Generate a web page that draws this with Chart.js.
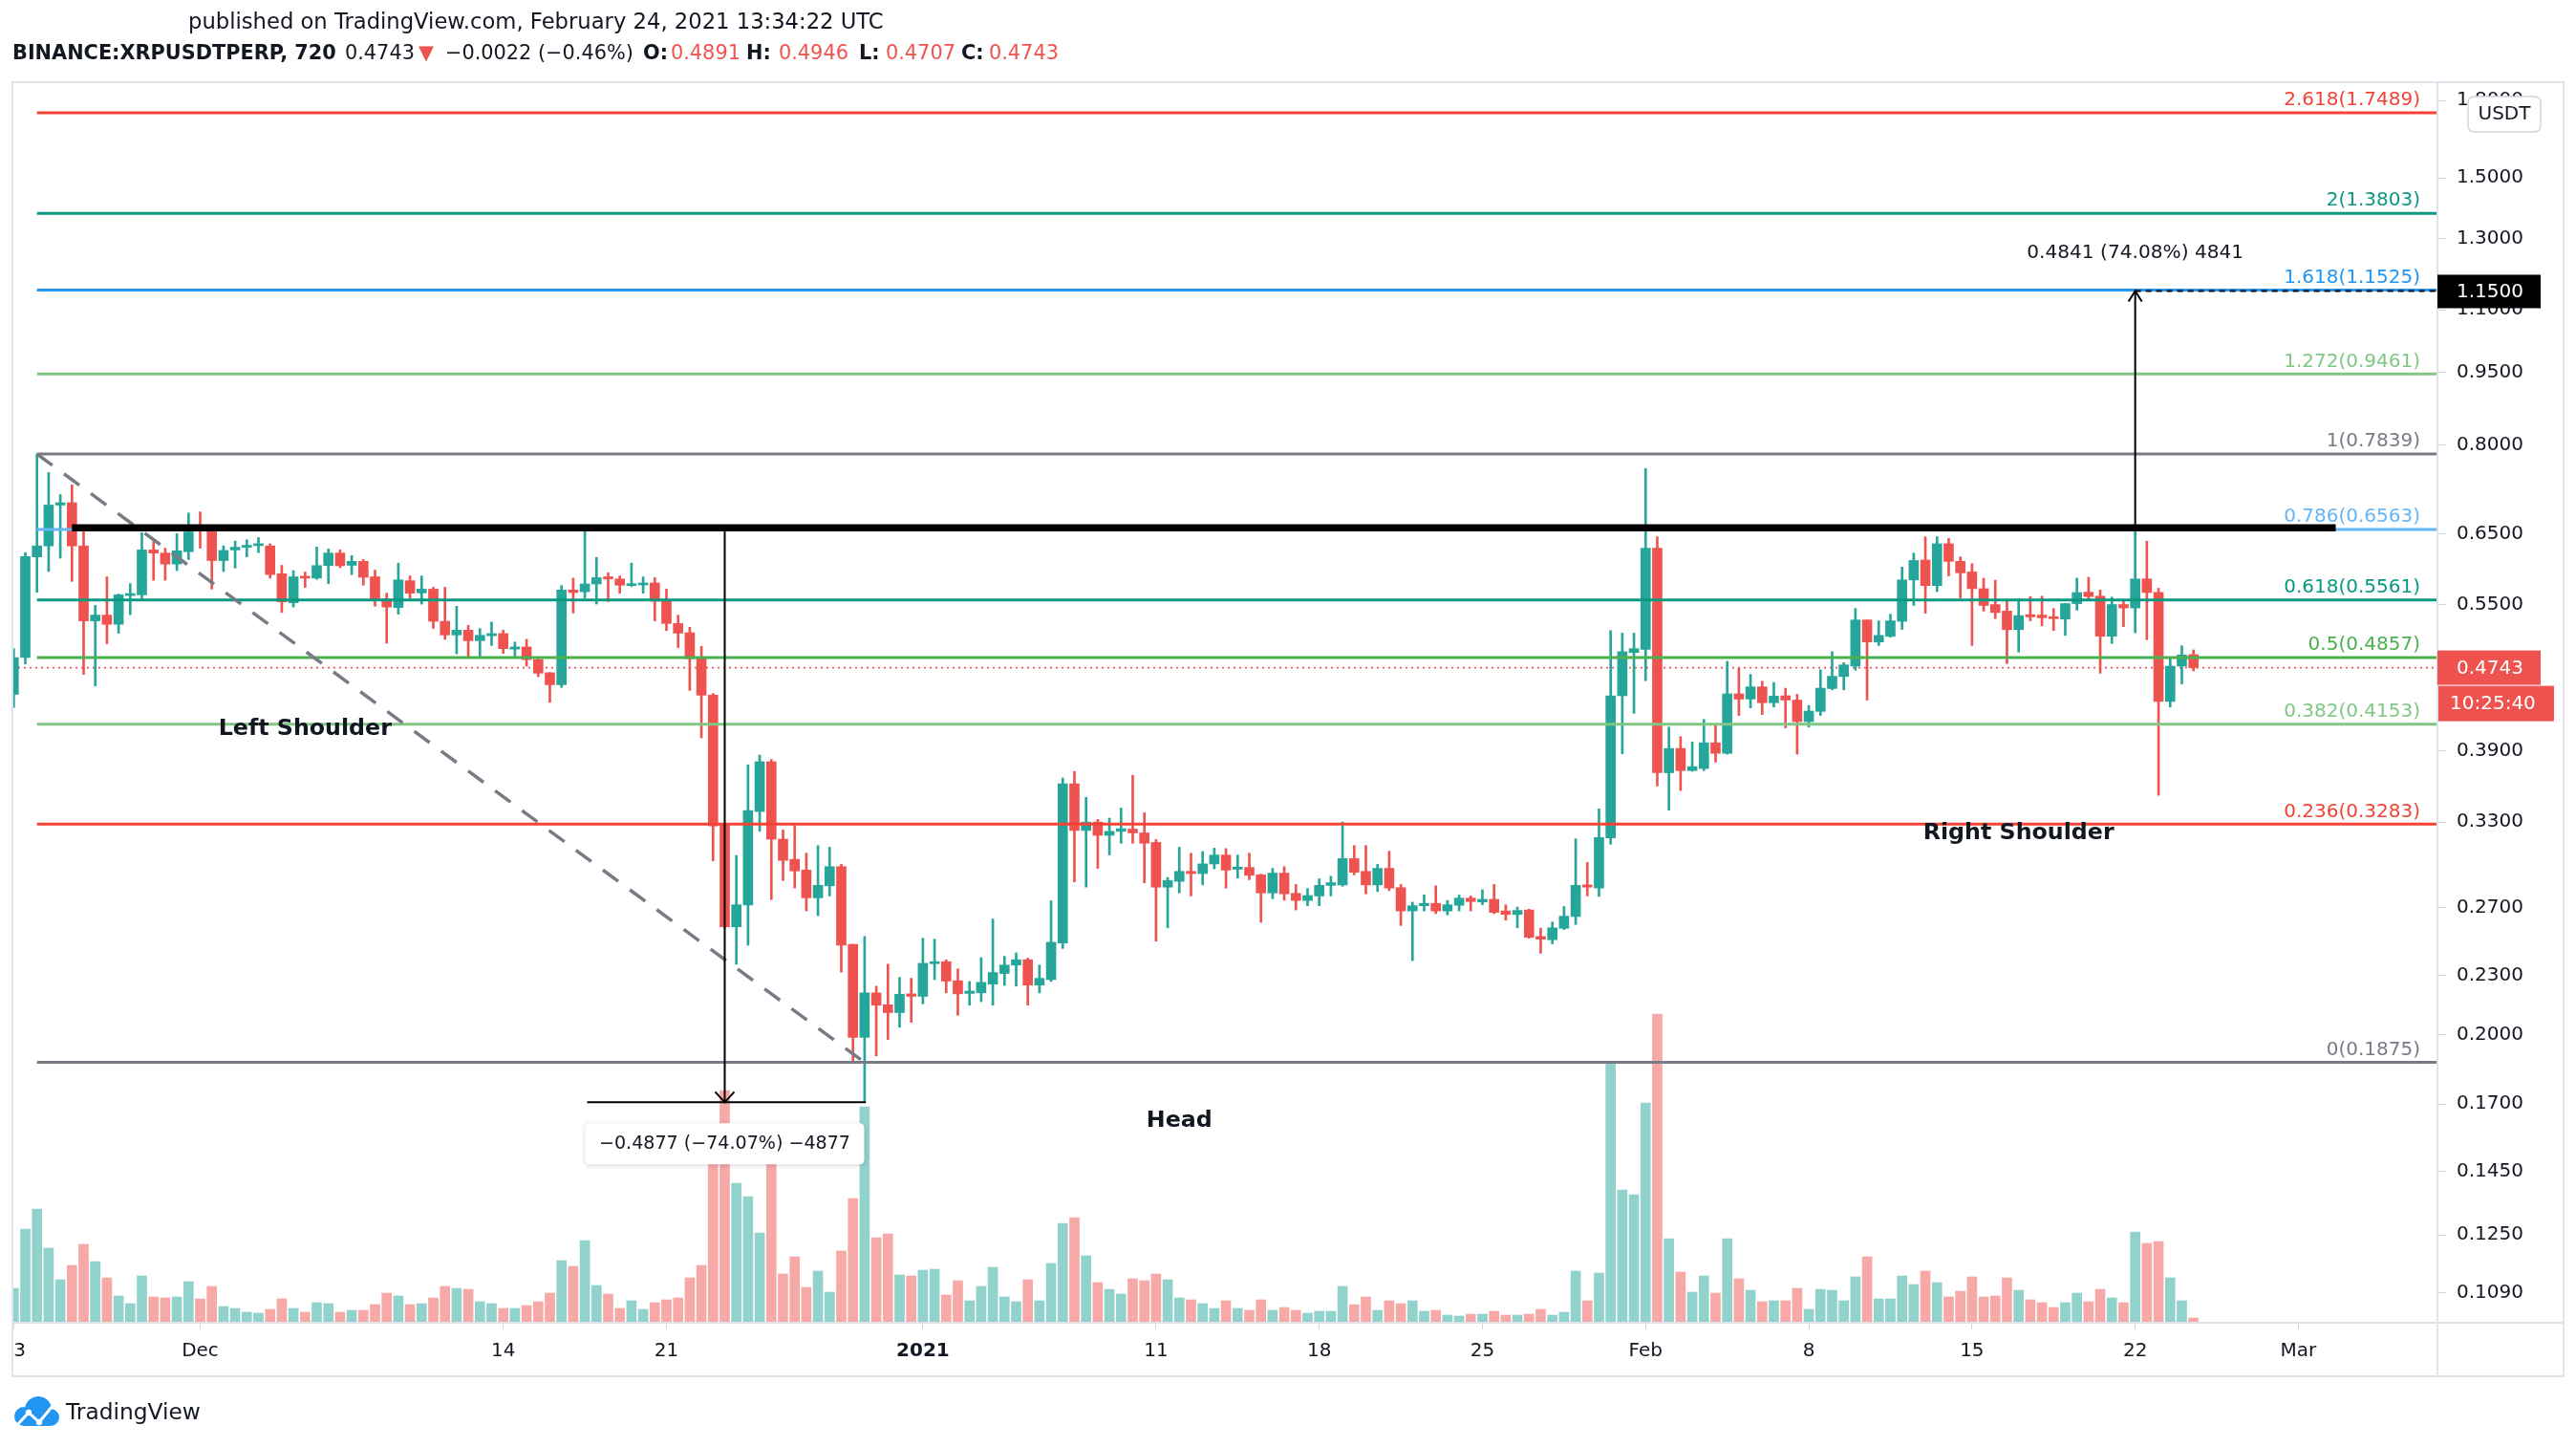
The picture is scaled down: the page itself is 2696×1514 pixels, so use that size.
<!DOCTYPE html>
<html>
<head>
<meta charset="utf-8">
<title>BINANCE:XRPUSDTPERP, 720</title>
<script src="https://cdn.jsdelivr.net/npm/chart.js@4.4.1/dist/chart.umd.min.js"></script>
<style>
html,body{margin:0;padding:0;background:#ffffff;}
#wrap{position:relative;width:2696px;height:1514px;}
canvas{display:block;}
</style>
</head>
<body>
<div id="wrap"><canvas id="chart" width="2696" height="1514"></canvas></div>
<script>
// ================= DATA (12h candles from 2020-11-23 00:00 UTC) =================
const candleStartUTC = '2020-11-23T00:00:00Z';
const candleStepHours = 12;

const opens = [
0.4455,0.4857,0.6155,0.6315,0.6952,0.6990,0.6315,0.5295,0.5367,0.5252,
0.5620,0.5629,0.6256,0.6210,0.6052,0.6230,0.6620,0.6560,0.6102,0.6256,
0.6295,0.6320,0.6315,0.5916,0.5526,0.5880,0.5855,0.6030,0.6210,0.6034,
0.6090,0.5873,0.5577,0.5464,0.5819,0.5655,0.5705,0.5290,0.5122,0.5180,
0.5054,0.5113,0.5139,0.4955,0.4980,0.4834,0.4687,0.4557,0.5694,0.5670,
0.5775,0.5873,0.5843,0.5753,0.5762,0.5788,0.5556,0.5262,0.5149,0.4844,
0.4446,0.3283,0.2579,0.2714,0.3382,0.3802,0.3169,0.3022,0.2947,0.2761,
0.2840,0.2971,0.2475,0.1989,0.2208,0.2147,0.2108,0.2203,0.2190,0.2365,
0.2376,0.2272,0.2205,0.2208,0.2254,0.2311,0.2357,0.2387,0.2249,0.2278,
0.2482,0.3610,0.3235,0.3299,0.3198,0.3228,0.3245,0.3216,0.3145,0.2831,
0.2870,0.2938,0.2923,0.2990,0.3053,0.2953,0.2965,0.2914,0.2793,0.2926,
0.2790,0.2744,0.2773,0.2843,0.2846,0.3028,0.2938,0.2846,0.2959,0.2828,
0.2677,0.2710,0.2725,0.2677,0.2713,0.2759,0.2734,0.2751,0.2677,0.2655,
0.2683,0.2521,0.2502,0.2570,0.2642,0.2846,0.2825,0.3179,0.4440,0.4915,
0.4951,0.6282,0.3705,0.3922,0.3724,0.3742,0.3975,0.3878,0.4460,0.4406,
0.4534,0.4368,0.4440,0.4395,0.4178,0.4280,0.4516,0.4646,0.4760,0.5306,
0.5038,0.5106,0.5290,0.5830,0.6108,0.5753,0.6347,0.6090,0.5940,0.5711,
0.5502,0.5418,0.5187,0.5372,0.5367,0.5345,0.5317,0.5514,0.5665,0.5612,
0.5107,0.5502,0.5458,0.5843,0.5660,0.4381,0.4760,0.4891];

const highs = [
0.4960,0.6217,0.7839,0.7505,0.7127,0.7290,0.6547,0.5491,0.5873,0.5640,
0.5780,0.6513,0.6380,0.6282,0.6500,0.6824,0.6840,0.6600,0.6315,0.6387,
0.6407,0.6440,0.6347,0.6034,0.5959,0.5940,0.6300,0.6270,0.6256,0.6173,
0.6115,0.5965,0.5650,0.6065,0.5885,0.5885,0.5730,0.5730,0.5480,0.5240,
0.5200,0.5280,0.5180,0.5038,0.5070,0.4857,0.4690,0.5752,0.5855,0.6600,
0.6147,0.5928,0.5885,0.6065,0.5873,0.5861,0.5705,0.5367,0.5217,0.4987,
0.4464,0.3290,0.3050,0.3775,0.3862,0.3822,0.3238,0.3275,0.3066,0.3122,
0.3110,0.2987,0.2475,0.2521,0.2243,0.2362,0.2290,0.2285,0.2510,0.2505,
0.2386,0.2336,0.2268,0.2399,0.2627,0.2406,0.2426,0.2396,0.2357,0.2742,
0.3660,0.3717,0.3496,0.3320,0.3330,0.3410,0.3683,0.3372,0.3166,0.2896,
0.3110,0.3066,0.3078,0.3103,0.3100,0.3053,0.3066,0.2920,0.2959,0.2971,
0.2849,0.2822,0.2887,0.2905,0.3300,0.3122,0.3122,0.2987,0.3081,0.2849,
0.2733,0.2780,0.2840,0.2744,0.2779,0.2773,0.2814,0.2849,0.2716,0.2702,
0.2688,0.2571,0.2608,0.2705,0.3172,0.3000,0.3403,0.5175,0.5144,0.5144,
0.7576,0.6454,0.4125,0.4033,0.3982,0.4200,0.4152,0.4815,0.4738,0.4668,
0.4595,0.4580,0.4519,0.4455,0.4340,0.4720,0.4925,0.4799,0.5451,0.5306,
0.5295,0.5378,0.6008,0.6210,0.6453,0.6453,0.6427,0.6155,0.6058,0.5855,
0.5825,0.5548,0.5577,0.5606,0.5612,0.5451,0.5514,0.5855,0.5867,0.5694,
0.5600,0.5543,0.6560,0.6387,0.5717,0.4857,0.4993,0.4946];

const lows = [
0.4320,0.4784,0.5664,0.5947,0.6135,0.5810,0.4668,0.4543,0.5018,0.5144,
0.5372,0.5577,0.5825,0.5825,0.5959,0.6115,0.6282,0.5706,0.5947,0.5996,
0.6155,0.6217,0.5855,0.5400,0.5470,0.5729,0.5837,0.5780,0.6000,0.5904,
0.5759,0.5480,0.5024,0.5378,0.5577,0.5508,0.5202,0.5070,0.4900,0.4854,
0.4854,0.4997,0.4905,0.4857,0.4760,0.4643,0.4372,0.4528,0.5395,0.5588,
0.5508,0.5543,0.5650,0.5741,0.5650,0.5295,0.5175,0.4972,0.4496,0.4021,
0.3012,0.2570,0.2362,0.2470,0.3228,0.2749,0.2875,0.2825,0.2677,0.2647,
0.2773,0.2318,0.1871,0.1707,0.1904,0.1979,0.2037,0.2060,0.2152,0.2278,
0.2208,0.2095,0.2145,0.2163,0.2145,0.2247,0.2243,0.2145,0.2208,0.2268,
0.2451,0.2866,0.2831,0.2959,0.3054,0.3139,0.3139,0.2860,0.2493,0.2573,
0.2793,0.2773,0.2846,0.2956,0.2825,0.2893,0.2881,0.2606,0.2755,0.2745,
0.2683,0.2710,0.2710,0.2773,0.2837,0.2914,0.2787,0.2802,0.2808,0.2587,
0.2382,0.2677,0.2660,0.2652,0.2677,0.2677,0.2716,0.2660,0.2620,0.2573,
0.2510,0.2424,0.2478,0.2562,0.2593,0.2773,0.2770,0.3132,0.3874,0.4260,
0.4600,0.3590,0.3393,0.3554,0.3717,0.3724,0.3798,0.3870,0.4239,0.4315,
0.4248,0.4323,0.4117,0.3870,0.4125,0.4239,0.4502,0.4502,0.4715,0.4395,
0.4997,0.5096,0.5190,0.5491,0.5390,0.5671,0.5885,0.5588,0.4997,0.5417,
0.5323,0.4789,0.4920,0.5295,0.5234,0.5176,0.5117,0.5430,0.5565,0.4682,
0.5021,0.5223,0.5149,0.5065,0.3514,0.4323,0.4566,0.4707];

const closes = [
0.4857,0.6160,0.6315,0.6952,0.6990,0.6315,0.5295,0.5367,0.5252,0.5629,
0.5645,0.6256,0.6210,0.6052,0.6243,0.6526,0.6560,0.6102,0.6249,0.6295,
0.6320,0.6330,0.5904,0.5537,0.5873,0.5855,0.6030,0.6210,0.6027,0.6090,
0.5867,0.5577,0.5470,0.5830,0.5650,0.5705,0.5290,0.5122,0.5180,0.5054,
0.5118,0.5139,0.4960,0.4980,0.4834,0.4682,0.4557,0.5694,0.5660,0.5775,
0.5861,0.5843,0.5759,0.5777,0.5788,0.5545,0.5262,0.5144,0.4844,0.4446,
0.3269,0.2579,0.2716,0.3389,0.3802,0.3169,0.3015,0.2941,0.2761,0.2843,
0.2971,0.2470,0.1989,0.2208,0.2145,0.2108,0.2201,0.2190,0.2367,0.2376,
0.2270,0.2203,0.2217,0.2263,0.2316,0.2357,0.2387,0.2249,0.2285,0.2487,
0.3610,0.3235,0.3299,0.3198,0.3228,0.3248,0.3216,0.3139,0.2831,0.2875,
0.2938,0.2923,0.2990,0.3053,0.2947,0.2968,0.2911,0.2793,0.2926,0.2787,
0.2744,0.2776,0.2843,0.2861,0.3028,0.2932,0.2846,0.2959,0.2825,0.2677,
0.2710,0.2725,0.2677,0.2716,0.2759,0.2737,0.2751,0.2668,0.2655,0.2680,
0.2516,0.2505,0.2573,0.2644,0.2843,0.2831,0.3182,0.4440,0.4925,0.4960,
0.6282,0.3705,0.3922,0.3724,0.3758,0.3975,0.3878,0.4460,0.4405,0.4534,
0.4368,0.4437,0.4395,0.4178,0.4283,0.4520,0.4648,0.4774,0.5306,0.5038,
0.5117,0.5295,0.5830,0.6102,0.5753,0.6347,0.6090,0.5928,0.5711,0.5491,
0.5400,0.5187,0.5361,0.5345,0.5334,0.5323,0.5514,0.5660,0.5606,0.5107,
0.5502,0.5458,0.5843,0.5660,0.4381,0.4760,0.4887,0.4743];

// relative volume (no volume scale shown in the picture)
const volumes = [
36,98,119,78,45,60,82,64,47,28,
20,49,27,26,27,43,25,38,17,15,
11,10,14,25,15,11,21,20,11,13,
13,19,31,28,19,20,26,38,36,35,
22,20,15,15,18,22,31,65,59,86,
39,30,15,23,14,21,24,26,47,60,
175,243,146,132,94,185,51,69,37,54,
32,75,130,226,89,93,50,49,55,56,
29,44,23,38,58,27,22,45,23,62,
104,110,70,42,35,30,46,44,51,45,
26,24,20,15,23,15,13,24,13,16,
13,10,12,12,38,19,27,13,23,20,
23,12,13,8,7,9,9,12,8,8,
9,14,8,11,54,23,52,272,139,134,
230,323,88,53,32,49,31,88,46,34,
22,23,23,36,14,35,34,23,48,69,
25,25,49,40,54,42,27,33,48,27,
28,47,34,24,21,16,21,31,22,35,
26,21,95,83,85,47,23,5];
const volumeAxisMax = 1298;

// time axis ticks (candle index -> label)
const xTickCandles = [0,16,42,56,78,98,112,126,140,154,168,182,196];
const xTickLabels  = ['23','Dec','14','21','2021','11','18','25','Feb','8','15','22','Mar'];
const xRange = [-0.107, 207.93];

// price axis (log)
const yTickValues = [1.8,1.5,1.3,1.1,0.95,0.8,0.65,0.55,0.47,0.39,0.33,0.27,0.23,0.2,0.17,0.145,0.125,0.109];
const yRange = [0.10166, 1.8789];

// Fibonacci retracement / extension
const fibRatios = ['2.618','2','1.618','1.272','1','0.786','0.618','0.5','0.382','0.236','0'];
const fibPrices = [1.7489,1.3803,1.1525,0.9461,0.7839,0.6563,0.5561,0.4857,0.4153,0.3283,0.1875];
const fibStartCandle = 2;

// drawings (in candle index / price units)
const necklinePrice = 0.659, necklineFrom = 5, necklineTo = 199.2;
const trendFrom = [2, 0.7839], trendTo = [73, 0.1875];
const downMeasure = {candle:61, from:0.6584, to:0.1707, baseFrom:49.2, baseTo:73.1, labelPrice:0.1547, text:'\u22120.4877 (\u221274.07%) \u22124877'};
const upMeasure = {candle:182, from:0.6535, to:1.15, labelPrice:1.2567, text:'0.4841 (74.08%) 4841'};
const patternLabels = [['Left Shoulder',25,0.4104],['Head',100,0.1633],['Right Shoulder',172,0.3212]];
const lastPrice = 0.4743, targetPrice = 1.15, countdown = '10:25:40';

// ================= STYLE =================
const FONT = '"DejaVu Sans", sans-serif';
const C = {up:'#26a69a', down:'#ef5350', upVol:'rgba(38,166,154,0.5)', downVol:'rgba(239,83,80,0.5)',
  text:'#131722', frame:'#e0e3eb', tick:'#d1d4dc'};
const fibColors = ['#f44336','#089981','#2196f3','#81c784','#787b86','#64b5f6','#089981','#4caf50','#81c784','#f44336','#787b86'];

Chart.defaults.font.family = FONT;

const isUp = closes.map((c,i)=> c >= opens[i]);
const candleColor = isUp.map(u => u ? C.up : C.down);

function seg(points, color, width, dash, order){
  return {type:'line', data: points.map(p=>({x:p[0], y:p[1]})), borderColor:color, borderWidth:width,
    borderDash: dash || [], pointRadius:0, pointHoverRadius:0, fill:false, tension:0, order,
    xAxisID:'x', yAxisID:'y', borderCapStyle:'butt'};
}

const datasets = [
  {type:'bar', label:'Volume', xAxisID:'x', yAxisID:'yVol', order:20, grouped:false, barThickness:10,
   data: volumes.map((v,i)=>({x:i, y:v})), backgroundColor: isUp.map(u=>u?C.upVol:C.downVol), borderWidth:0},
  seg([[xRange[0], lastPrice],[xRange[1], lastPrice]], C.down, 1.6, [2,4], 15),
  {type:'bar', label:'Wicks', xAxisID:'x', yAxisID:'y', order:12, grouped:false, barThickness:2,
   data: highs.map((h,i)=>({x:i, y:[lows[i], h]})), backgroundColor: candleColor, borderWidth:0},
  {type:'bar', label:'Bodies', xAxisID:'x', yAxisID:'y', order:11, grouped:false, barThickness:10, minBarLength:2,
   data: opens.map((o,i)=>({x:i, y:[o, closes[i]]})), backgroundColor: candleColor, borderWidth:0},
];
fibPrices.forEach((p,k)=> datasets.push(seg([[fibStartCandle,p],[xRange[1],p]], fibColors[k], 3, null, 8)));
datasets.push(seg([trendFrom, trendTo], '#787b86', 3.5, [20,15], 7));
datasets.push(seg([[necklineFrom,necklinePrice],[necklineTo,necklinePrice]], '#000000', 7.5, null, 6));
datasets.push(seg([[downMeasure.candle,downMeasure.from],[downMeasure.candle,downMeasure.to]], '#000000', 2, null, 5));
datasets.push(seg([[downMeasure.baseFrom,downMeasure.to],[downMeasure.baseTo,downMeasure.to]], '#000000', 2, null, 5));
datasets.push(seg([[upMeasure.candle,upMeasure.from],[upMeasure.candle,upMeasure.to]], '#000000', 2, null, 5));
datasets.push(seg([[upMeasure.candle,targetPrice],[xRange[1],targetPrice]], '#000000', 2, [6,5], 5));

function fitSize(ctx, text, weight, width){
  ctx.font = weight + ' 20px ' + FONT;
  return 20 * width / ctx.measureText(text).width;
}
function roundRect(ctx, x, y, w, h, r){
  ctx.beginPath();
  ctx.moveTo(x+r,y); ctx.lineTo(x+w-r,y); ctx.quadraticCurveTo(x+w,y,x+w,y+r);
  ctx.lineTo(x+w,y+h-r); ctx.quadraticCurveTo(x+w,y+h,x+w-r,y+h);
  ctx.lineTo(x+r,y+h); ctx.quadraticCurveTo(x,y+h,x,y+h-r);
  ctx.lineTo(x,y+r); ctx.quadraticCurveTo(x,y,x+r,y); ctx.closePath();
}

const overlay = {
  id:'overlay',
  afterDraw(chart){
    const ctx = chart.ctx, a = chart.chartArea;
    const xs = chart.scales.x, ys = chart.scales.y;
    const X = v => xs.getPixelForValue(v), Y = v => ys.getPixelForValue(v);
    const right = 2683, bottom = 1440;
    ctx.save();

    // ---- time axis labels (clipped to the frame) ----
    ctx.save();
    ctx.beginPath(); ctx.rect(a.left + 1, a.bottom, a.right - a.left, bottom - a.bottom); ctx.clip();
    ctx.fillStyle = C.text; ctx.textAlign = 'center'; ctx.textBaseline = 'middle';
    xTickCandles.forEach((c,k)=>{
      ctx.font = (xTickLabels[k] === '2021' ? 'bold ' : '') + '20px ' + FONT;
      ctx.fillText(xTickLabels[k], X(c), a.bottom + 30);
    });
    ctx.restore();

    // ---- frame ----
    ctx.strokeStyle = C.frame; ctx.lineWidth = 2;
    ctx.strokeRect(a.left, a.top, right - a.left, bottom - a.top);
    ctx.beginPath();
    ctx.moveTo(a.right, a.top); ctx.lineTo(a.right, bottom);
    ctx.moveTo(a.left, a.bottom); ctx.lineTo(right, a.bottom);
    ctx.stroke();

    // ---- fib labels ----
    ctx.font = '20px ' + FONT; ctx.textAlign = 'right'; ctx.textBaseline = 'middle';
    fibPrices.forEach((p,k)=>{
      ctx.fillStyle = fibColors[k];
      ctx.fillText(fibRatios[k] + '(' + p.toFixed(4) + ')', a.right - 18, Y(p) - 13);
    });

    // ---- pattern labels ----
    const ps = fitSize(ctx, 'Right Shoulder', 'bold', 200);
    ctx.font = 'bold ' + ps.toFixed(2) + 'px ' + FONT; ctx.fillStyle = C.text; ctx.textAlign = 'center';
    patternLabels.forEach(l => ctx.fillText(l[0], X(l[1]), Y(l[2])));

    // ---- arrow heads ----
    ctx.strokeStyle = '#000'; ctx.lineWidth = 2;
    let ax = X(downMeasure.candle), ay = Y(downMeasure.to);
    ctx.beginPath(); ctx.moveTo(ax-10, ay-11); ctx.lineTo(ax, ay); ctx.lineTo(ax+10, ay-11); ctx.stroke();
    ax = X(upMeasure.candle); ay = Y(upMeasure.to);
    ctx.beginPath(); ctx.moveTo(ax-7, ay+11); ctx.lineTo(ax, ay); ctx.lineTo(ax+7, ay+11); ctx.stroke();

    // ---- measure labels ----
    let fs = fitSize(ctx, downMeasure.text, 'normal', 263);
    ctx.font = fs.toFixed(2) + 'px ' + FONT;
    const bx = X(downMeasure.candle), by = Y(downMeasure.labelPrice);
    ctx.save();
    ctx.shadowColor = 'rgba(0,0,0,0.18)'; ctx.shadowBlur = 5; ctx.shadowOffsetY = 1;
    ctx.fillStyle = '#ffffff'; roundRect(ctx, bx - 146, by - 22, 292, 43, 5); ctx.fill();
    ctx.restore();
    ctx.fillStyle = C.text; ctx.textAlign = 'center'; ctx.textBaseline = 'middle';
    ctx.fillText(downMeasure.text, bx, by);
    fs = fitSize(ctx, upMeasure.text, 'normal', 227);
    ctx.font = fs.toFixed(2) + 'px ' + FONT;
    ctx.fillText(upMeasure.text, X(upMeasure.candle), Y(upMeasure.labelPrice));

    // ---- price-axis labels ----
    ctx.font = '20px ' + FONT; ctx.textAlign = 'left';
    let ty = Y(targetPrice);
    ctx.fillStyle = '#000000'; ctx.fillRect(a.right, ty - 17, 108, 35);
    ctx.fillStyle = '#ffffff'; ctx.fillText(targetPrice.toFixed(4), a.right + 20, ty + 1);
    ty = Y(lastPrice);
    ctx.fillStyle = C.down; ctx.fillRect(a.right, ty - 18, 108, 36);
    ctx.fillStyle = '#ffffff'; ctx.fillText(lastPrice.toFixed(4), a.right + 20, ty + 1);
    ctx.fillStyle = C.down; ctx.fillRect(a.right + 1, ty + 19, 121, 37);
    ctx.fillStyle = '#ffffff'; ctx.fillText(countdown, a.right + 13, ty + 38);
    // currency badge
    ctx.fillStyle = '#ffffff'; roundRect(ctx, 2583, 101, 76, 37, 7); ctx.fill();
    ctx.strokeStyle = '#d1d4dc'; ctx.lineWidth = 1.5; ctx.stroke();
    ctx.fillStyle = C.text; ctx.textAlign = 'center'; ctx.fillText('USDT', 2621, 120);

    // ---- header ----
    ctx.textAlign = 'left'; ctx.textBaseline = 'middle';
    const title = 'published on TradingView.com, February 24, 2021 13:34:22 UTC';
    ctx.font = fitSize(ctx, title, 'normal', 728).toFixed(2) + 'px ' + FONT;
    ctx.fillStyle = C.text; ctx.fillText(title, 197, 24);
    const hs = fitSize(ctx, 'BINANCE:XRPUSDTPERP, 720', 'bold', 339).toFixed(2);
    const pieces = [['BINANCE:XRPUSDTPERP, 720','bold',C.text,13],['0.4743','normal',C.text,361],['\u25BC','normal',C.down,438],
      ['\u22120.0022 (\u22120.46%)','normal',C.text,466],['O:','bold',C.text,673],['0.4891','normal',C.down,702],
      ['H:','bold',C.text,781],['0.4946','normal',C.down,815],['L:','bold',C.text,899],['0.4707','normal',C.down,927],
      ['C:','bold',C.text,1006],['0.4743','normal',C.down,1035]];
    pieces.forEach(p=>{ ctx.font = p[1] + ' ' + hs + 'px ' + FONT; ctx.fillStyle = p[2]; ctx.fillText(p[0], p[3], 57); });

    // ---- footer logo ----
    ctx.fillStyle = '#2196f3';
    ctx.beginPath();
    ctx.arc(25, 1482, 10, Math.PI*0.5, Math.PI*1.5);
    ctx.arc(40, 1475, 14, Math.PI*1.05, Math.PI*1.95);
    ctx.arc(53, 1483, 9, Math.PI*1.5, Math.PI*0.5);
    ctx.closePath(); ctx.fill();
    ctx.strokeStyle = '#ffffff'; ctx.lineWidth = 3; ctx.lineJoin = 'round';
    ctx.beginPath(); ctx.moveTo(17, 1492); ctx.lineTo(30, 1478); ctx.lineTo(41, 1488); ctx.lineTo(55, 1471); ctx.stroke();
    ctx.fillStyle = '#ffffff';
    [[30,1478],[41,1488]].forEach(q=>{ ctx.beginPath(); ctx.arc(q[0], q[1], 3.2, 0, Math.PI*2); ctx.fill(); });
    ctx.fillStyle = C.text;
    ctx.font = fitSize(ctx, 'TradingView', 'normal', 141).toFixed(2) + 'px ' + FONT;
    ctx.fillText('TradingView', 69, 1479);
    ctx.restore();
  }
};

new Chart(document.getElementById('chart'), {
  type:'bar',
  data:{datasets},
  options:{
    responsive:false, animation:false, events:[],
    layout:{padding:{left:13, top:86, right:13, bottom:74}},
    plugins:{legend:{display:false}, tooltip:{enabled:false}},
    scales:{
      x:{type:'linear', min:xRange[0], max:xRange[1], offset:false, position:'bottom',
         grid:{display:true, drawOnChartArea:false, drawTicks:true, tickLength:7, color:C.tick, offset:false},
         border:{display:false},
         ticks:{display:false},
         afterBuildTicks:(s)=>{ s.ticks = xTickCandles.map(v=>({value:v})); },
         afterFit:(s)=>{ s.height = 56; s.paddingLeft = 0; s.paddingRight = 0; }},
      y:{type:'logarithmic', position:'right', min:yRange[0], max:yRange[1], bounds:'data',
         grid:{display:true, drawOnChartArea:false, drawTicks:true, tickLength:9, color:C.tick},
         border:{display:false},
         ticks:{color:C.text, font:{family:FONT, size:20}, padding:11, autoSkip:false,
                callback:(v)=>Number(v).toFixed(4)},
         afterBuildTicks:(s)=>{ s.ticks = yTickValues.map(v=>({value:v})); },
         afterFit:(s)=>{ s.width = 132; s.paddingTop = 0; s.paddingBottom = 0; }},
      yVol:{type:'linear', display:false, min:0, max:volumeAxisMax}
    }
  },
  plugins:[overlay]
});
</script>
</body>
</html>
